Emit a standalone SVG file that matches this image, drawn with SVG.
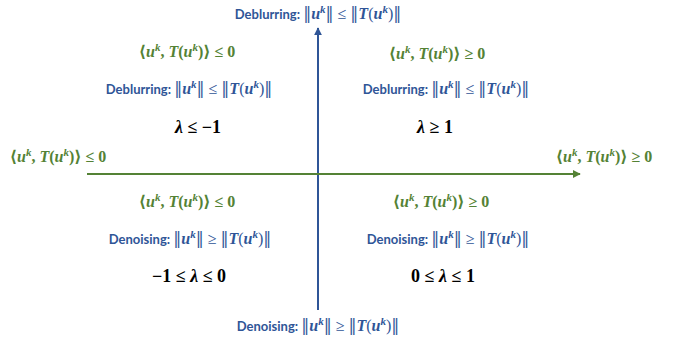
<svg xmlns="http://www.w3.org/2000/svg" width="678" height="345" viewBox="0 0 678 345">
<style>
text{font-family:"Liberation Serif","DejaVu Serif",serif;text-anchor:middle}
.b{fill:#2F5597;font-size:16px}
.g{fill:#548235;font-size:16px;font-weight:bold}
.k{fill:#000;font-size:18px;font-weight:bold}
.s{font-family:Lato,"Liberation Sans",sans-serif;font-weight:bold;font-size:13px}
.i{font-style:italic;font-weight:bold}
.p{font-size:11px;font-style:italic;font-weight:bold}
.n{font-family:"DejaVu Serif",serif;font-weight:normal}
</style>
<defs>
<marker id="ab" viewBox="0 0 10 10" refX="9" refY="5" markerWidth="4" markerHeight="4" orient="auto"><path d="M0,0L10,5L0,10z" fill="#2F5597"/></marker>
<marker id="ag" viewBox="0 0 10 10" refX="9" refY="5" markerWidth="4" markerHeight="4" orient="auto"><path d="M0,0L10,5L0,10z" fill="#548235"/></marker>
</defs>
<g id="connectors">
<line x1="318" y1="310" x2="318" y2="28" stroke="#2F5597" stroke-width="2" marker-end="url(#ab)"/>
<line x1="87" y1="174" x2="580" y2="174" stroke="#548235" stroke-width="2" marker-end="url(#ag)"/>
</g>
<g id="top-label"><text class="b" x="318" y="19"><tspan class="s">Deblurring: </tspan><tspan class="n">‖</tspan><tspan class="i">u</tspan><tspan class="p" dy="-6">k</tspan><tspan dy="6" class="n">‖</tspan> ≤ <tspan class="n">‖</tspan><tspan class="i">T</tspan>(<tspan class="i">u</tspan><tspan class="p" dy="-6">k</tspan><tspan dy="6">)</tspan><tspan class="n">‖</tspan></text></g>
<g id="bottom-label"><text class="b" x="318" y="331"><tspan class="s">Denoising: </tspan><tspan class="n">‖</tspan><tspan class="i">u</tspan><tspan class="p" dy="-6">k</tspan><tspan dy="6" class="n">‖</tspan> ≥ <tspan class="n">‖</tspan><tspan class="i">T</tspan>(<tspan class="i">u</tspan><tspan class="p" dy="-6">k</tspan><tspan dy="6">)</tspan><tspan class="n">‖</tspan></text></g>
<g id="left-label"><text class="g" x="58" y="162">⟨<tspan class="i">u</tspan><tspan class="p" dy="-6">k</tspan><tspan dy="6">, </tspan><tspan class="i">T</tspan>(<tspan class="i">u</tspan><tspan class="p" dy="-6">k</tspan><tspan dy="6">)⟩ ≤ 0</tspan></text></g>
<g id="right-label"><text class="g" x="604" y="162">⟨<tspan class="i">u</tspan><tspan class="p" dy="-6">k</tspan><tspan dy="6">, </tspan><tspan class="i">T</tspan>(<tspan class="i">u</tspan><tspan class="p" dy="-6">k</tspan><tspan dy="6">)⟩ ≥ 0</tspan></text></g>
<g id="q2">
<text class="g" x="187" y="57">⟨<tspan class="i">u</tspan><tspan class="p" dy="-6">k</tspan><tspan dy="6">, </tspan><tspan class="i">T</tspan>(<tspan class="i">u</tspan><tspan class="p" dy="-6">k</tspan><tspan dy="6">)⟩ ≤ 0</tspan></text>
<text class="b" x="189" y="94"><tspan class="s">Deblurring: </tspan><tspan class="n">‖</tspan><tspan class="i">u</tspan><tspan class="p" dy="-6">k</tspan><tspan dy="6" class="n">‖</tspan> ≤ <tspan class="n">‖</tspan><tspan class="i">T</tspan>(<tspan class="i">u</tspan><tspan class="p" dy="-6">k</tspan><tspan dy="6">)</tspan><tspan class="n">‖</tspan></text>
<text class="k" x="198" y="133"><tspan class="i">λ</tspan> ≤ −1</text>
</g>
<g id="q1">
<text class="g" x="437" y="59">⟨<tspan class="i">u</tspan><tspan class="p" dy="-6">k</tspan><tspan dy="6">, </tspan><tspan class="i">T</tspan>(<tspan class="i">u</tspan><tspan class="p" dy="-6">k</tspan><tspan dy="6">)⟩ ≥ 0</tspan></text>
<text class="b" x="446" y="94"><tspan class="s">Deblurring: </tspan><tspan class="n">‖</tspan><tspan class="i">u</tspan><tspan class="p" dy="-6">k</tspan><tspan dy="6" class="n">‖</tspan> ≤ <tspan class="n">‖</tspan><tspan class="i">T</tspan>(<tspan class="i">u</tspan><tspan class="p" dy="-6">k</tspan><tspan dy="6">)</tspan><tspan class="n">‖</tspan></text>
<text class="k" x="435" y="133"><tspan class="i">λ</tspan> ≥ 1</text>
</g>
<g id="q3">
<text class="g" x="187" y="207">⟨<tspan class="i">u</tspan><tspan class="p" dy="-6">k</tspan><tspan dy="6">, </tspan><tspan class="i">T</tspan>(<tspan class="i">u</tspan><tspan class="p" dy="-6">k</tspan><tspan dy="6">)⟩ ≤ 0</tspan></text>
<text class="b" x="190" y="244"><tspan class="s">Denoising: </tspan><tspan class="n">‖</tspan><tspan class="i">u</tspan><tspan class="p" dy="-6">k</tspan><tspan dy="6" class="n">‖</tspan> ≥ <tspan class="n">‖</tspan><tspan class="i">T</tspan>(<tspan class="i">u</tspan><tspan class="p" dy="-6">k</tspan><tspan dy="6">)</tspan><tspan class="n">‖</tspan></text>
<text class="k" x="189" y="282">−1 ≤ <tspan class="i">λ</tspan> ≤ 0</text>
</g>
<g id="q4">
<text class="g" x="441" y="207">⟨<tspan class="i">u</tspan><tspan class="p" dy="-6">k</tspan><tspan dy="6">, </tspan><tspan class="i">T</tspan>(<tspan class="i">u</tspan><tspan class="p" dy="-6">k</tspan><tspan dy="6">)⟩ ≥ 0</tspan></text>
<text class="b" x="448" y="244"><tspan class="s">Denoising: </tspan><tspan class="n">‖</tspan><tspan class="i">u</tspan><tspan class="p" dy="-6">k</tspan><tspan dy="6" class="n">‖</tspan> ≥ <tspan class="n">‖</tspan><tspan class="i">T</tspan>(<tspan class="i">u</tspan><tspan class="p" dy="-6">k</tspan><tspan dy="6">)</tspan><tspan class="n">‖</tspan></text>
<text class="k" x="443" y="282">0 ≤ <tspan class="i">λ</tspan> ≤ 1</text>
</g>
</svg>
